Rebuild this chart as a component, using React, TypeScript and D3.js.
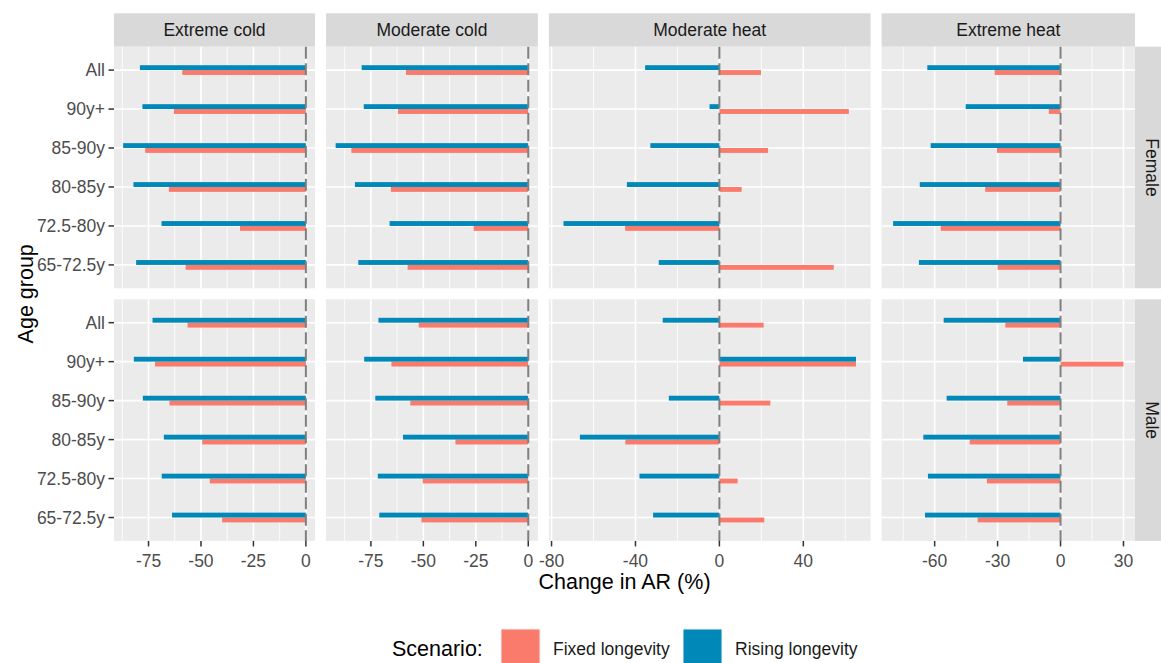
import React from 'react';
import * as d3 from 'd3';

// faceted horizontal bar chart: change in attributable risk by age group, exposure and sex

const ages = ['All', '90y+', '85-90y', '80-85y', '72.5-80y', '65-72.5y'];
const exposures = ['Extreme cold', 'Moderate cold', 'Moderate heat', 'Extreme heat'];
const sexes = ['Female', 'Male'];
const scenarios = ['Fixed longevity', 'Rising longevity'];
const colors = ['#FA7A6C', '#0089B8'];

// Female
const femaleFixedXCold = [-58.9, -62.9, -76.6, -65.3, -31.4, -57.3];
const femaleRisingXCold = [-79.1, -77.9, -87.1, -82.2, -68.8, -80.9];
const femaleFixedMCold = [-58.3, -62.1, -84.3, -65.5, -26.0, -57.5];
const femaleRisingMCold = [-79.4, -78.4, -91.8, -82.6, -66.1, -81.0];
const femaleFixedMHeat = [19.8, 61.7, 23.2, 10.6, -44.9, 54.5];
const femaleRisingMHeat = [-35.4, -4.7, -32.9, -44.1, -74.3, -28.9];
const femaleFixedXHeat = [-31.4, -5.6, -30.3, -35.9, -57.1, -30.0];
const femaleRisingXHeat = [-63.5, -45.2, -61.9, -67.1, -79.8, -67.5];

// Male
const maleFixedXCold = [-56.4, -71.9, -65.0, -49.4, -45.8, -39.9];
const maleRisingXCold = [-73.1, -82.0, -77.7, -67.7, -68.7, -63.8];
const maleFixedMCold = [-52.2, -65.2, -56.2, -34.7, -50.3, -50.9];
const maleRisingMCold = [-71.4, -78.2, -72.9, -59.7, -71.7, -71.0];
const maleFixedMHeat = [21.1, 65.1, 24.3, -44.8, 8.7, 21.4];
const maleRisingMHeat = [-27.0, 65.1, -24.1, -66.5, -38.1, -31.6];
const maleFixedXHeat = [-26.3, 30.0, -25.4, -43.3, -35.1, -39.5];
const maleRisingXHeat = [-55.7, -17.9, -54.3, -65.4, -63.2, -64.6];

const xTicks = [
  [-75, -50, -25, 0],
  [-75, -50, -25, 0],
  [-80, -40, 0, 40],
  [-60, -30, 0, 30],
];

// [sex][exposure][scenario] -> values
const table = [
  [
    [femaleFixedXCold, femaleRisingXCold],
    [femaleFixedMCold, femaleRisingMCold],
    [femaleFixedMHeat, femaleRisingMHeat],
    [femaleFixedXHeat, femaleRisingXHeat],
  ],
  [
    [maleFixedXCold, maleRisingXCold],
    [maleFixedMCold, maleRisingMCold],
    [maleFixedMHeat, maleRisingMHeat],
    [maleFixedXHeat, maleRisingXHeat],
  ],
];

const FONT = '"Liberation Sans", Arial, sans-serif';

export default function App() {
  const W = 1161, H = 663;
  const panelLeft = 114, panelRight = 1135, gap = 11;
  const stripTop = 13.3, stripH = 33.4;
  const rowTops = [46.7, 299.3];
  const rowH = 241.6;

  // free x scales, panel width proportional to range (space = "free_x")
  const domains = exposures.map((_, e) => {
    const vals = [0];
    table.forEach(s => s[e].forEach(arr => vals.push(...arr)));
    const [mn, mx] = d3.extent(vals) as [number, number];
    const pad = (mx - mn) * 0.05;
    return [mn - pad, mx + pad];
  });
  const spans = domains.map(d => d[1] - d[0]);
  const k = (panelRight - panelLeft - gap * 3) / d3.sum(spans);
  let cx = panelLeft;
  const xScales = domains.map((d, i) => {
    const w = spans[i] * k;
    const s = d3.scaleLinear().domain(d).range([cx, cx + w]);
    cx += w + gap;
    return s;
  });

  const yScales = rowTops.map(t =>
    d3.scaleBand().domain(ages).range([t, t + rowH]).paddingInner(0).paddingOuter(0.1)
  );
  const bw = yScales[0].step() * 0.25;
  const dodge = d3.scaleBand().domain(['Rising longevity', 'Fixed longevity']).range([-bw / 2, bw / 2]);

  const minorTicks = (ticks: number[], dom: number[]) => {
    const step = ticks[1] - ticks[0];
    const m = ticks.map(v => v - step / 2).concat([ticks[ticks.length - 1] + step / 2]);
    return m.filter(v => v > dom[0] && v < dom[1]);
  };

  const axisY = rowTops[1] + rowH;

  return (
    <svg width={W} height={H} style={{ position: 'absolute', left: 0, top: 0, display: 'block' }} fontFamily={FONT}>
      <rect width={W} height={H} fill="#fff" />
      {/* top strips */}
      {exposures.map((e, i) => {
        const [a, b] = xScales[i].range();
        return (
          <g key={e}>
            <rect x={a} y={stripTop} width={b - a} height={stripH} fill="#D9D9D9" />
            <text x={(a + b) / 2} y={stripTop + stripH / 2 + 6} textAnchor="middle" fontSize={17.5} fill="#1A1A1A">{e}</text>
          </g>
        );
      })}
      {/* right strips */}
      {sexes.map((s, r) => (
        <g key={s}>
          <rect x={panelRight} y={rowTops[r]} width={stripH} height={rowH} fill="#D9D9D9" />
          <text transform={`translate(${panelRight + stripH / 2 - 6},${rowTops[r] + rowH / 2}) rotate(90)`} textAnchor="middle" fontSize={17.5} fill="#1A1A1A">{s}</text>
        </g>
      ))}
      {/* panels */}
      {sexes.map((s, r) =>
        exposures.map((e, i) => {
          const x = xScales[i];
          const y = yScales[r];
          const [a, b] = x.range();
          const dom = x.domain();
          return (
            <g key={s + e}>
              <rect x={a} y={rowTops[r]} width={b - a} height={rowH} fill="#EBEBEB" />
              {minorTicks(xTicks[i], dom).map(v => (
                <line key={'m' + v} x1={x(v)} x2={x(v)} y1={rowTops[r]} y2={rowTops[r] + rowH} stroke="#fff" strokeWidth={0.8} />
              ))}
              {xTicks[i].map(v => (
                <line key={'M' + v} x1={x(v)} x2={x(v)} y1={rowTops[r]} y2={rowTops[r] + rowH} stroke="#fff" strokeWidth={1.6} />
              ))}
              {ages.map(g => (
                <line key={'h' + g} x1={a} x2={b} y1={y(g)! + y.bandwidth() / 2} y2={y(g)! + y.bandwidth() / 2} stroke="#fff" strokeWidth={1.6} />
              ))}
              {scenarios.map((sc, j) =>
                table[r][i][j].map((v, gi) => {
                  const cy = y(ages[gi])! + y.bandwidth() / 2 + dodge(sc)!;
                  return (
                    <rect key={sc + gi} x={Math.min(x(0), x(v))} y={cy} width={Math.abs(x(v) - x(0))} height={dodge.bandwidth()} fill={colors[j]} />
                  );
                })
              )}
              <line x1={x(0)} x2={x(0)} y1={rowTops[r]} y2={rowTops[r] + rowH} stroke="#7F7F7F" strokeWidth={2} strokeDasharray="12,4.5" />
            </g>
          );
        })
      )}
      {/* y axes */}
      {yScales.map((y, r) =>
        ages.map(g => {
          const cy = y(g)! + y.bandwidth() / 2;
          return (
            <g key={r + g}>
              <line x1={panelLeft - 5.5} x2={panelLeft} y1={cy} y2={cy} stroke="#333" strokeWidth={1.5} />
              <text x={panelLeft - 9} y={cy + 6} textAnchor="end" fontSize={17.5} fill="#4D4D4D">{g}</text>
            </g>
          );
        })
      )}
      {/* x axes */}
      {xScales.map((x, i) =>
        xTicks[i].map(v => (
          <g key={i + '_' + v}>
            <line x1={x(v)} x2={x(v)} y1={axisY} y2={axisY + 5.5} stroke="#333" strokeWidth={1.5} />
            <text x={x(v)} y={axisY + 26} textAnchor="middle" fontSize={17.5} fill="#4D4D4D">{v}</text>
          </g>
        ))
      )}
      {/* axis titles */}
      <text x={(panelLeft + panelRight) / 2} y={589} textAnchor="middle" fontSize={21.5} fill="#000">Change in AR (%)</text>
      <text transform={`translate(33,${(rowTops[0] + rowTops[1] + rowH) / 2}) rotate(-90)`} textAnchor="middle" fontSize={21.5} fill="#000">Age group</text>
      {/* legend */}
      <text x={392} y={656} fontSize={21.5} fill="#000">Scenario:</text>
      {scenarios.map((sc, j) => {
        const kx = j === 0 ? 500.5 : 682.5;
        return (
          <g key={sc}>
            <rect x={kx} y={628.5} width={40} height={40} fill="#F2F2F2" />
            <rect x={kx + 1} y={629.5} width={38} height={38} fill={colors[j]} />
            <text x={kx + 52.5} y={655} fontSize={17.5} fill="#1A1A1A">{sc}</text>
          </g>
        );
      })}
    </svg>
  );
}
